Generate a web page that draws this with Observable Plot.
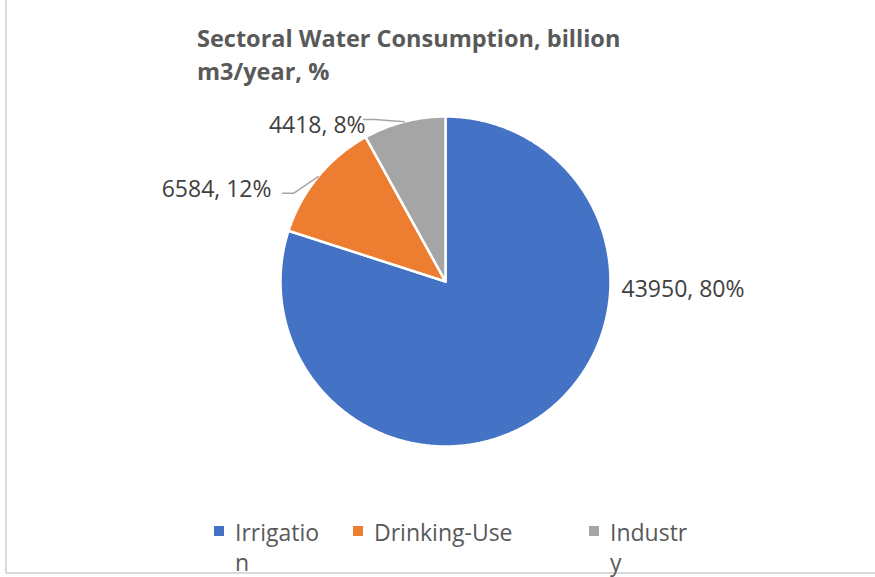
<!DOCTYPE html>
<html>
<head>
<meta charset="utf-8">
<script src="https://cdn.jsdelivr.net/npm/d3@7"></script>
<script src="https://cdn.jsdelivr.net/npm/@observablehq/plot@0.6"></script>
<style>
  html, body { margin: 0; padding: 0; background: #fff; }
  #wrap { position: relative; width: 875px; height: 577px; overflow: hidden; font-family: "Open Sans", sans-serif; }
  #frame { position: absolute; left: 5px; top: -5px; width: 900px; height: 579px; box-sizing: border-box;
           border-left: 2px solid #d9d9d9; border-bottom: 2px solid #d9d9d9; }
  #chart { position: absolute; left: 0; top: 0; }
  #title { position: absolute; left: 197px; top: 22px; width: 480px; font-weight: 700; font-size: 23.5px;
           line-height: 33px; color: #595959; }
  .item { position: absolute; top: 517px; font-size: 23px; line-height: 30px; color: #595959; word-break: break-all; }
  .sw { position: absolute; top: 526px; width: 10px; height: 10px; }
</style>
</head>
<body>
<div id="wrap">
  <div id="frame"></div>
  <div id="chart"></div>
  <div id="title"></div>
  <div id="legend"></div>
</div>
<script>
// ---- data ----
const titleText = "Sectoral Water Consumption, billion m3/year, %";
const categories = ["Irrigation", "Drinking-Use", "Industry"];
const values = [43950, 6584, 4418];
const colors = ["#4472C4", "#ED7D31", "#A5A5A5"];

// ---- layout (not data) ----
const W = 875, H = 577, cx = 445, cy = 281, R = 165;
const labelLayout = {
  "Irrigation":   {angle: 92.6,  r: 1.068, anchor: "start"},
  "Drinking-Use": {angle: 297.9, r: 1.193, anchor: "end", leaderAngle: 298.4, leaderR: 1.123},
  "Industry":     {angle: 332.9, r: 1.063, anchor: "end", leaderAngle: 333.2, leaderR: 1.10}
};
const legendLayout = {
  "Irrigation":   {left: 235, width: 90},
  "Drinking-Use": {left: 374, width: 200},
  "Industry":     {left: 610, width: 80}
};

const total = d3.sum(values);
const rows = categories.map((c, i) => ({cat: c, value: values[i]}));
const arcs = d3.pie().sort(null).value(d => d.value)(rows);
const deg = Math.PI / 180;
const pt = (a, r) => ({x: r * Math.sin(a), y: r * Math.cos(a)});

const slicePts = arcs.flatMap(a => {
  const n = Math.max(2, Math.ceil((a.endAngle - a.startAngle) / (Math.PI / 360)));
  const pts = [{cat: a.data.cat, x: 0, y: 0}];
  for (let k = 0; k <= n; k++) {
    const t = a.startAngle + (a.endAngle - a.startAngle) * k / n;
    pts.push({cat: a.data.cat, ...pt(t, 1)});
  }
  return pts;
});

const labels = arcs.map(a => {
  const L = labelLayout[a.data.cat];
  const p = pt(L.angle * deg, L.r);
  return {cat: a.data.cat, anchor: L.anchor, x: p.x, y: p.y,
          text: `${a.data.value}, ${Math.round(a.data.value / total * 100)}%`};
});

const leaders = arcs.filter(a => labelLayout[a.data.cat].leaderAngle != null).flatMap(a => {
  const L = labelLayout[a.data.cat];
  const mid = (a.startAngle + a.endAngle) / 2;
  const s = pt(mid, 1);
  const e = pt(L.leaderAngle * deg, L.leaderR);
  const el = {x: e.x + 11 / R, y: e.y};
  return [{cat: a.data.cat, ...s}, {cat: a.data.cat, ...el}, {cat: a.data.cat, ...e}];
});

const chart = Plot.plot({
  width: W, height: H, margin: 0,
  x: {domain: [-cx / R, (W - cx) / R], axis: null},
  y: {domain: [-(H - cy) / R, cy / R], axis: null},
  color: {domain: categories, range: colors},
  style: {background: "transparent", fontFamily: '"Open Sans", sans-serif'},
  marks: [
    Plot.line(slicePts, {x: "x", y: "y", z: "cat", fill: "cat", stroke: "white", strokeWidth: 2.5,
                         curve: "linear-closed", strokeLinejoin: "round"}),
    Plot.line(leaders, {x: "x", y: "y", z: "cat", stroke: "#A6A6A6", strokeWidth: 1.5}),
    Plot.text(labels.filter(d => d.anchor === "start"), {x: "x", y: "y", text: "text", textAnchor: "start",
                         fontSize: 23, fill: "#404040"}),
    Plot.text(labels.filter(d => d.anchor === "end"), {x: "x", y: "y", text: "text", textAnchor: "end",
                         fontSize: 23, fill: "#404040"})
  ]
});
document.getElementById("chart").appendChild(chart);
document.getElementById("title").textContent = titleText;

const legend = document.getElementById("legend");
categories.forEach((c, i) => {
  const L = legendLayout[c];
  const sw = document.createElement("div");
  sw.className = "sw";
  sw.style.left = (L.left - 21) + "px";
  sw.style.background = colors[i];
  legend.appendChild(sw);
  const t = document.createElement("div");
  t.className = "item";
  t.style.left = L.left + "px";
  t.style.width = L.width + "px";
  t.textContent = c;
  legend.appendChild(t);
});
</script>
</body>
</html>
